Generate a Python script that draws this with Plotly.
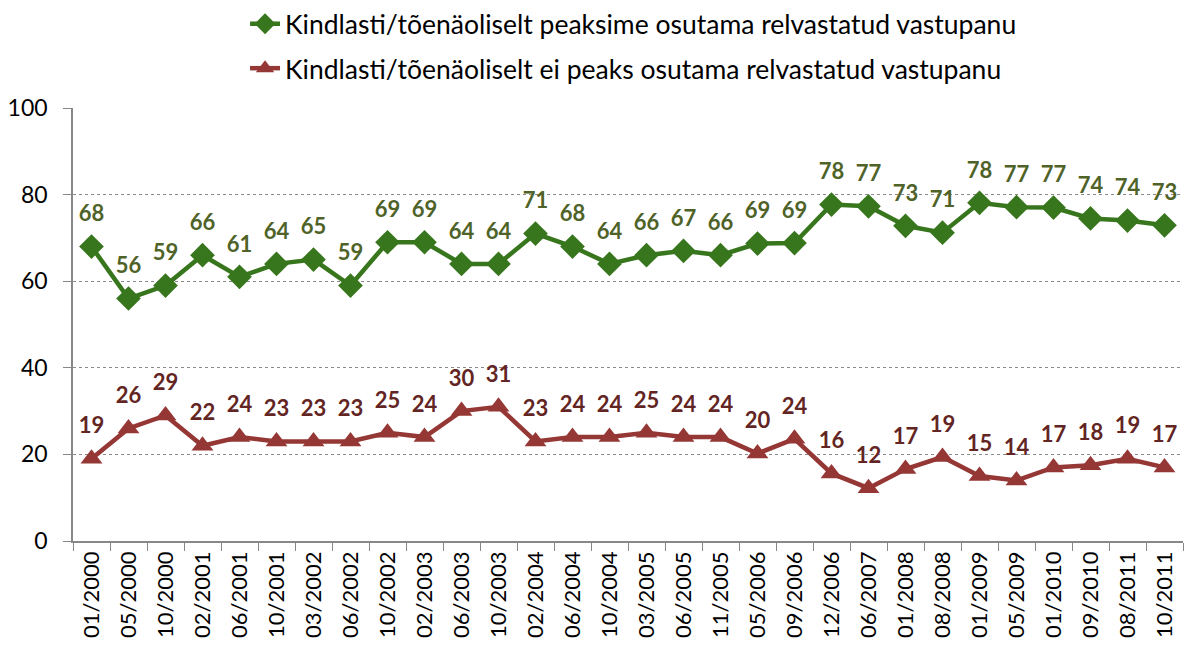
import plotly.graph_objects as go

periods = ["01/2000", "05/2000", "10/2000", "02/2001", "06/2001", "10/2001", "03/2002", "06/2002",
           "10/2002", "02/2003", "06/2003", "10/2003", "02/2004", "06/2004", "10/2004", "03/2005",
           "06/2005", "11/2005", "05/2006", "09/2006", "12/2006", "06/2007", "01/2008", "08/2008",
           "01/2009", "05/2009", "01/2010", "09/2010", "08/2011", "10/2011"]

resist_yes = [68, 56, 59, 66, 61, 64, 65, 59, 69, 69, 64, 64, 71, 68, 64, 66, 67, 66,
              68.7, 68.8, 77.7, 77.3, 72.8, 71.2, 78.1, 77.1, 77, 74.5, 74, 72.9]
resist_no = [19, 26, 29, 22, 24, 23, 23, 23, 25, 24, 30, 31, 23, 24, 24, 25, 24, 24,
             20.2, 23.6, 15.6, 12.2, 16.6, 19.4, 15, 14, 17, 17.5, 19, 17]

name_yes = "Kindlasti/tõenäoliselt peaksime osutama relvastatud vastupanu"
name_no = "Kindlasti/tõenäoliselt ei peaks osutama relvastatud vastupanu"

green = "#38761D"
green_txt = "#4F6228"
red = "#953735"
red_txt = "#632523"
font = "Lato, 'Open Sans', sans-serif"

fig = go.Figure()
fig.add_trace(go.Scatter(
    x=periods, y=resist_yes, name=name_yes, mode="lines+markers",
    line=dict(color=green, width=4.5),
    marker=dict(symbol="diamond", size=19, color=green),
    legendgroup="a",
))
fig.add_trace(go.Scatter(
    x=periods, y=resist_no, name=name_no, mode="lines+markers",
    line=dict(color=red, width=4.5),
    marker=dict(symbol="triangle-up", size=19, color=red),
    legendgroup="b",
))
# value labels
for vals, col in [(resist_yes, green_txt), (resist_no, red_txt)]:
    fig.add_trace(go.Scatter(
        x=periods, y=vals, mode="markers+text",
        text=[f"{v:.0f}" for v in vals], textposition="top center",
        textfont=dict(family=font, size=22, color=col, weight="bold"),
        marker=dict(size=30, opacity=0), showlegend=False, hoverinfo="skip",
    ))

fig.update_layout(
    width=1185, height=650,
    margin=dict(l=73, r=2, t=108, b=109),
    plot_bgcolor="white", paper_bgcolor="white",
    font=dict(family=font, color="black"),
    legend=dict(
        x=0.505, xanchor="center", xref="paper",
        y=1.0, yanchor="top", yref="container",
        font=dict(size=26.5), tracegroupgap=7, bgcolor="rgba(0,0,0,0)",
    ),
    xaxis=dict(
        type="category", range=[-0.5, 29.5], tickangle=-90,
        tickfont=dict(size=22), ticks="outside", tickson="boundaries",
        ticklen=8, tickcolor="#888888", showline=True, linecolor="#888888",
        linewidth=1.5, showgrid=False, automargin=False,
    ),
    yaxis=dict(
        range=[0, 100], dtick=20, tickfont=dict(size=23), ticks="outside",
        ticklen=8, tickcolor="#888888", showline=True, linecolor="#888888",
        linewidth=1.5, showgrid=True, gridcolor="#8a8a8a", griddash="dot",
        gridwidth=1, zeroline=False, automargin=False, ticklabelstandoff=11,
    ),
)

# drop the default 8px page margin so the figure fills the window
fig.write_html("out.html", config={"displayModeBar": False},
               post_script="document.body.style.margin='0';")
